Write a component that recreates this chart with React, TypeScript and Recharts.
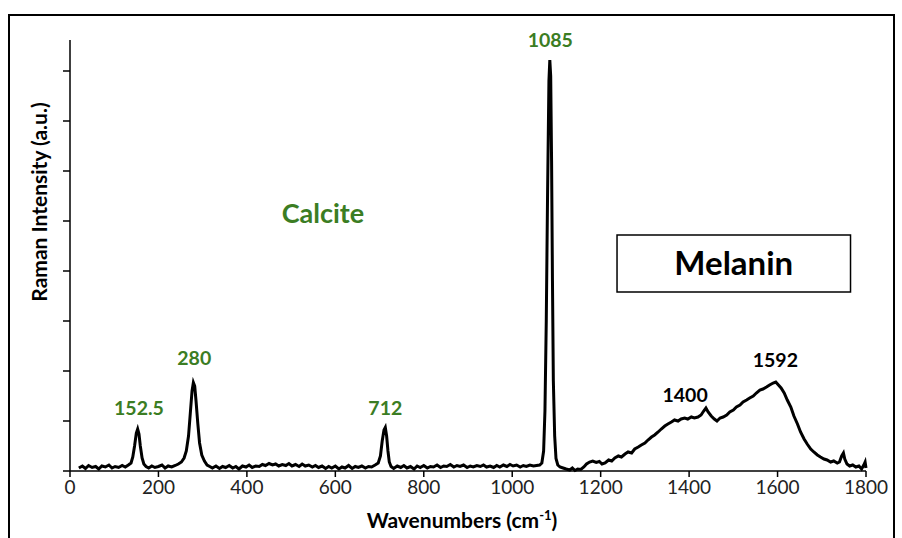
import { LineChart, Line, XAxis, YAxis, ReferenceDot, ReferenceArea, Label } from 'recharts';

// Raman spectrum (cm-1, a.u.)
const wavenumbers = [
  20, 28, 35, 42, 50, 58, 65, 72, 80, 88, 95, 102, 110, 118, 125, 132, 138,
  142, 146, 150, 153, 156, 159, 163, 167, 172, 178, 185, 192, 200, 208, 215, 222, 230, 238, 245,
  252, 258, 263, 268, 272, 276, 279, 282, 285, 289, 293, 298, 304, 310, 316, 322, 330, 338, 345,
  352, 360, 368, 375, 382, 390, 398, 405, 412, 420, 428, 435, 442, 450, 458, 465, 472, 480, 488,
  495, 502, 510, 518, 525, 532, 540, 548, 555, 562, 570, 578, 585, 592, 600, 608, 615, 622, 630,
  638, 645, 652, 660, 668, 675, 682, 690, 697, 702, 706, 710, 713, 716, 719, 722, 726, 732, 740,
  748, 755, 762, 770, 778, 785, 792, 800, 808, 815, 822, 830, 838, 845, 852, 860, 868, 875, 882,
  890, 898, 905, 912, 920, 928, 935, 942, 950, 958, 965, 972, 980, 988, 995, 1002, 1010, 1018,
  1025, 1032, 1040, 1048, 1055, 1062, 1067, 1071, 1074, 1077, 1080, 1083, 1085, 1087, 1089, 1091,
  1093, 1096, 1099, 1103, 1108, 1115, 1122, 1130, 1136, 1142, 1148, 1155, 1162, 1168, 1175, 1182,
  1190, 1197, 1203, 1210, 1218, 1225, 1232, 1240, 1247, 1255, 1262, 1270, 1277, 1285, 1292, 1300,
  1307, 1315, 1322, 1330, 1337, 1345, 1352, 1360, 1367, 1375, 1382, 1390, 1397, 1405, 1412, 1420,
  1427, 1433, 1438, 1443, 1450, 1457, 1463, 1470, 1477, 1485, 1492, 1500, 1507, 1515, 1522, 1530,
  1537, 1545, 1552, 1560, 1567, 1575, 1582, 1590, 1596, 1602, 1608, 1615, 1622, 1630, 1637, 1645,
  1652, 1660, 1667, 1675, 1682, 1690, 1697, 1705, 1712, 1720, 1727, 1735, 1740, 1745, 1749, 1752,
  1757, 1763, 1770, 1777, 1784, 1790, 1795, 1798, 1800,
];

const intensity = [
  6, 10, 5, 11, 7, 9, 4, 10, 8, 12, 6, 9, 7, 11, 8, 12, 16,
  28, 50, 76, 84, 74, 50, 26, 14, 9, 6, 10, 7, 9, 12, 6, 10, 8, 11, 14,
  18, 26, 40, 70, 115, 160, 177, 170, 140, 95, 56, 32, 20, 12, 9, 6, 10, 5, 9,
  7, 11, 6, 9, 4, 10, 8, 12, 7, 10, 9, 13, 11, 15, 12, 14, 10, 13, 11,
  15, 10, 13, 9, 14, 10, 12, 8, 11, 7, 10, 5, 9, 6, 10, 4, 8, 6, 11,
  5, 9, 7, 10, 6, 9, 8, 12, 16, 30, 60, 82, 87, 70, 40, 18, 9, 5, 10,
  7, 11, 6, 9, 4, 10, 7, 11, 6, 9, 8, 12, 7, 10, 9, 13, 8, 11, 9,
  12, 7, 10, 8, 11, 9, 12, 8, 10, 7, 11, 8, 12, 9, 13, 10, 12, 8,
  11, 9, 12, 10, 11, 12, 16, 40, 120, 300, 560, 780, 822, 790, 620, 380,
  180, 70, 25, 12, 8, 6, 4, 2, 6, 1, 4, 3, 8, 14, 18, 20,
  17, 19, 14, 16, 22, 20, 26, 30, 28, 34, 38, 36, 44, 48, 52, 56,
  62, 68, 72, 78, 84, 90, 94, 98, 102, 100, 104, 106, 104, 108, 106, 108,
  112, 120, 126, 118, 110, 104, 100, 106, 108, 112, 118, 122, 128, 132, 138, 142,
  146, 150, 156, 162, 164, 168, 172, 176, 178, 172, 166, 156, 142, 128, 110, 94,
  78, 64, 54, 44, 38, 32, 28, 24, 22, 18, 20, 16, 18, 30, 36, 24,
  14, 10, 12, 8, 10, 4, 12, 18, 6,
];

const xTicks = [0, 200, 400, 600, 800, 1000, 1200, 1400, 1600, 1800];
const yTicks = [0, 100, 200, 300, 400, 500, 600, 700, 800];

// peak annotations: [text, x, y]
const calciteLabels: [string, number, number][] = [
  ['1085', 1086, 862],
  ['152.5', 156, 126],
  ['280', 281, 226],
  ['712', 713, 126],
];
const melaninLabels: [string, number, number][] = [
  ['1400', 1391, 152],
  ['1592', 1595, 222],
];

const GREEN = '#3b7d23';
const FONT = 'Lato, "Open Sans", sans-serif';

const data = wavenumbers.map((w, i) => ({ w, v: intensity[i] }));

export default function App() {
  return (
    <div style={{ position: 'absolute', left: 0, top: 0, width: 902, height: 538, background: '#fff', overflow: 'hidden', fontFamily: FONT }}>
      <div style={{ position: 'absolute', left: 8, top: 14, width: 887, height: 600, border: '2px solid #000', boxSizing: 'border-box' }} />
      <LineChart width={902} height={538} data={data} margin={{ top: 40, right: 36, bottom: 37, left: 0 }} style={{ position: 'absolute', left: 0, top: 0 }}>
        <XAxis
          dataKey="w"
          type="number"
          domain={[0, 1800]}
          ticks={xTicks}
          height={30}
          stroke="#000"
          strokeWidth={1.5}
          tickSize={6}
          tickMargin={4}
          tick={{ fontSize: 19, fill: '#222', fontFamily: FONT }}
        >
          <Label
            content={() => (
              <text x={462} y={528} textAnchor="middle" fontSize={21} fontWeight="bold" fontFamily={FONT} fill="#000">
                Wavenumbers (cm<tspan dy={-8} fontSize={13}>-1</tspan><tspan dy={8}>)</tspan>
              </text>
            )}
          />
        </XAxis>
        <YAxis
          type="number"
          domain={[0, 862]}
          ticks={yTicks}
          width={70}
          stroke="#000"
          strokeWidth={1.5}
          tickSize={7}
          tickFormatter={() => ''}
        >
          <Label
            content={() => (
              <text x={47} y={202} transform="rotate(-90 47 202)" textAnchor="middle" fontSize={21} fontWeight="bold" fontFamily={FONT} fill="#000">
                Raman Intensity (a.u.)
              </text>
            )}
          />
        </YAxis>
        <ReferenceArea x1={1237} x2={1765} y1={358} y2={472} fill="#fff" fillOpacity={1} stroke="#000" strokeWidth={1.5} ifOverflow="visible">
          <Label value="Melanin" position="center" fontSize={33} fontWeight="bold" fontFamily={FONT} fill="#000" />
        </ReferenceArea>
        <ReferenceDot x={572} y={516} r={0} stroke="none" ifOverflow="visible">
          <Label value="Calcite" position="center" fontSize={27} fontWeight="bold" fontFamily={FONT} fill={GREEN} />
        </ReferenceDot>
        {calciteLabels.map(([t, x, y]) => (
          <ReferenceDot key={t} x={x} y={y} r={0} stroke="none" ifOverflow="visible">
            <Label value={t} position="center" fontSize={19.5} fontWeight="bold" fontFamily={FONT} fill={GREEN} />
          </ReferenceDot>
        ))}
        {melaninLabels.map(([t, x, y]) => (
          <ReferenceDot key={t} x={x} y={y} r={0} stroke="none" ifOverflow="visible">
            <Label value={t} position="center" fontSize={19.5} fontWeight="bold" fontFamily={FONT} fill="#000" />
          </ReferenceDot>
        ))}
        <Line type="linear" dataKey="v" stroke="#000" strokeWidth={3} dot={false} isAnimationActive={false} />
      </LineChart>
    </div>
  );
}
